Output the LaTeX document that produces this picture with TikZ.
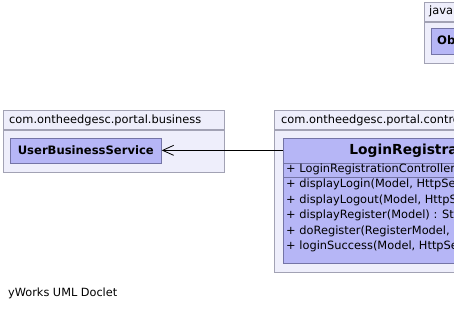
\documentclass[tikz,border=0pt]{standalone}
\usepackage{fontspec}
\setmainfont{DejaVu Sans}
\usepackage{xcolor}
\definecolor{pkgfill}{HTML}{EEEEFB}
\definecolor{pkgline}{HTML}{A2A2B4}
\definecolor{clsfill}{HTML}{B6B6F6}
\definecolor{clsline}{HTML}{7474A6}
\usepackage{tikz}
\usetikzlibrary{arrows.meta, positioning}

\newcommand{\umlfont}{\fontsize{11.4}{13}\selectfont}
\newcommand{\umlbold}{\fontsize{11.6}{13}\selectfont\bfseries}
\newcommand{\umlhead}{\fontsize{13.8}{16}\selectfont\bfseries}

\begin{document}
\begin{tikzpicture}[
    x=1pt, y=-1pt,
    pkghead/.style={draw=pkgline, fill=pkgfill, line width=0.7pt, inner sep=0pt, anchor=north west, minimum height=19pt},
    pkgbody/.style={draw=pkgline, fill=pkgfill, line width=0.7pt, inner sep=0pt, anchor=north, minimum width=#1},
    cls/.style={draw=clsline, fill=clsfill, line width=0.7pt, inner sep=0pt},
    pkgname/.style={font=\umlfont, anchor=west, inner sep=0pt},
    member/.style={font=\umlfont, anchor=west, inner sep=0pt},
    assoc/.style={-{Straight Barb[length=11pt, width=10pt, line width=0.8pt]}, line width=0.8pt, black},
]
\useasboundingbox (0,0) rectangle (454,309);
\fill[white] (0,0) rectangle (454,309);
\clip (0,0) rectangle (454,309);

% package java.lang
\node[pkghead, minimum width=120pt] (javahead) at (424,2) {};
\node[pkgbody=120pt, below=0pt of javahead, minimum height=41pt] (javapkg) {};
\node[pkgname] (javaname) at (429,11.5) {java.lang};
\node[cls, anchor=north west, minimum width=80pt, minimum height=26pt] (obj) at (431,28) {};
\node[font=\umlbold, anchor=west, inner sep=0pt] (objname) at (437,41.5) {Object};

% package business
\node[pkghead, minimum width=221pt] (bizhead) at (3,110) {};
\node[pkgbody=221pt, below=0pt of bizhead, minimum height=42pt] (bizpkg) {};
\node[pkgname] (bizname) at (9,120) {com.ontheedgesc.portal.business};
\node[cls, anchor=north west, minimum width=151pt, minimum height=25pt, font=\umlbold] (ubs) at (10,137.5) {UserBusinessService};

% package controller
\node[pkghead, minimum width=380pt] (ctlhead) at (274,110) {};
\node[pkgbody=380pt, below=0pt of ctlhead, minimum height=142pt] (ctlpkg) {};
\node[pkgname] (ctlname) at (281,120) {com.ontheedgesc.portal.controller};

% class LoginRegistrationController
\node[cls, anchor=north west, minimum width=349pt, minimum height=25pt, font=\umlhead] (lrcname) at (283,137.5) {LoginRegistrationController};
\node[cls, below=0pt of lrcname, minimum width=349pt, minimum height=13.5pt] (lrcctor) {};
\node[cls, below=0pt of lrcctor, minimum width=349pt, minimum height=86pt] (lrcops) {};
\node[member] (ctor) at (286,169) {+ LoginRegistrationController()};
\node[member] (op1) at (286,184.5) {+ displayLogin(Model, HttpSession) : String};
\node[member] (op2) at (286,200) {+ displayLogout(Model, HttpSession) : String};
\node[member] (op3) at (286,215.5) {+ displayRegister(Model) : String};
\node[member] (op4) at (286,231) {+ doRegister(RegisterModel, Model) : String};
\node[member] (op5) at (286,246.5) {+ loginSuccess(Model, HttpSession) : String};

% dependency
\draw[assoc] (lrcname.west) -- (ubs.east);

\node[font=\fontsize{11.3}{13}\selectfont, anchor=west, inner sep=0pt] (doclet) at (8,293) {yWorks UML Doclet};
\end{tikzpicture}
\end{document}
